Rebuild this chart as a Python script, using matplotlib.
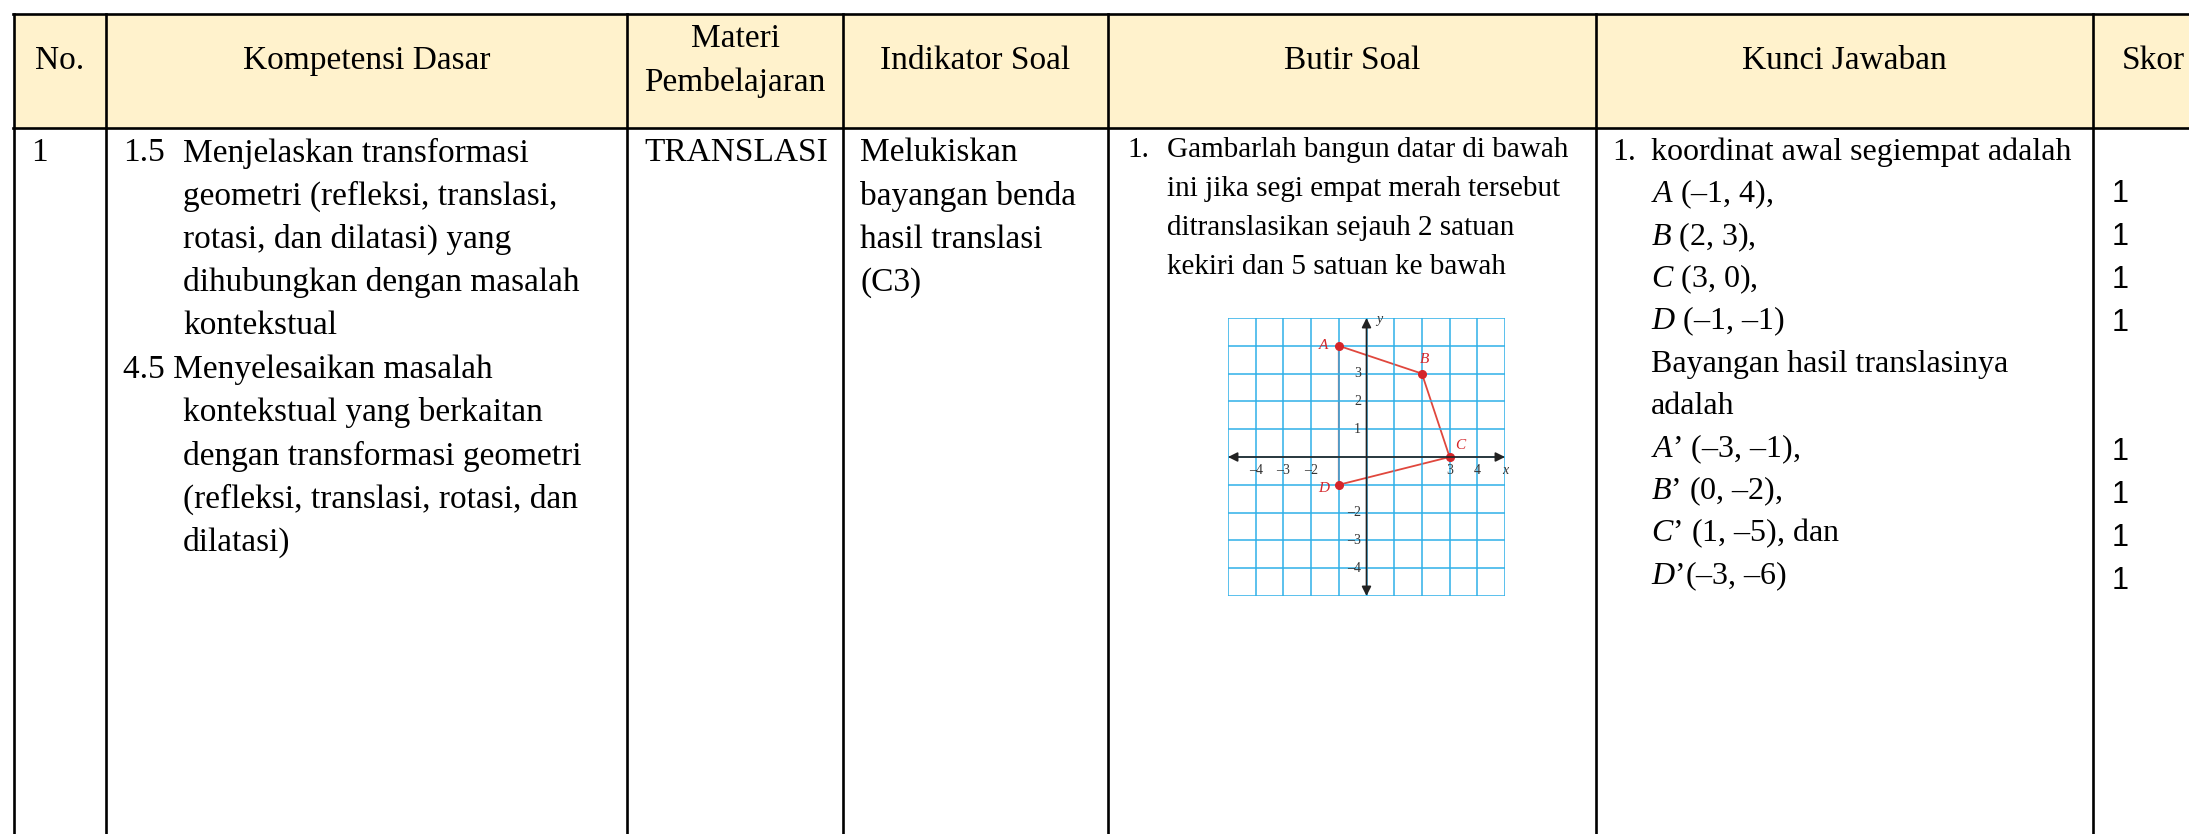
import numpy as np
import matplotlib.pyplot as plt
from matplotlib.patches import Rectangle

plt.rcParams['mathtext.fontset'] = 'custom'
plt.rcParams['mathtext.it'] = 'Liberation Serif:italic'
plt.rcParams['mathtext.rm'] = 'Liberation Serif'

#Table content
headers = ['No.', 'Kompetensi Dasar', 'Materi\nPembelajaran', 'Indikator Soal',
           'Butir Soal', 'Kunci Jawaban', 'Skor']
nomor = '1'
kd_lines = [('1.5', 'Menjelaskan transformasi'),
            ('', 'geometri (refleksi, translasi,'),
            ('', 'rotasi, dan dilatasi) yang'),
            ('', 'dihubungkan dengan masalah'),
            ('', 'kontekstual'),
            ('4.5 Menyelesaikan masalah', ''),
            ('', 'kontekstual yang berkaitan'),
            ('', 'dengan transformasi geometri'),
            ('', '(refleksi, translasi, rotasi, dan'),
            ('', 'dilatasi)')]
materi = 'TRANSLASI'
indikator_lines = ['Melukiskan', 'bayangan benda', 'hasil translasi', '(C3)']
soal_lines = ['Gambarlah bangun datar di bawah',
              'ini jika segi empat merah tersebut',
              'ditranslasikan sejauh 2 satuan',
              'kekiri dan 5 satuan ke bawah']
kunci_lines = ['koordinat awal segiempat adalah',
               '$A$ (\u20131, 4),',
               '$B$ (2, 3),',
               '$C$ (3, 0),',
               '$D$ (\u20131, \u20131)',
               'Bayangan hasil translasinya',
               'adalah',
               '$A$\u2019 (\u20133, \u20131),',
               '$B$\u2019 (0, \u20132),',
               '$C$\u2019 (1, \u20135), dan',
               '$D$\u2019(\u20133, \u20136)']
skor = [None, 1, 1, 1, 1, None, None, 1, 1, 1, 1]

#Quadrilateral in the question picture
quad_names = ['A', 'B', 'C', 'D']
quad_x = [-1, 2, 3, -1]
quad_y = [4, 3, 0, -1]
x_ticks = [-4, -3, -2, 3, 4]
y_ticks = [3, 2, 1, -2, -3, -4]

#Layout (pixels)
W, H = 2189, 834
col_edges = [14, 106, 627, 843, 1108, 1596, 2093]
top, head_bot = 14, 128
serif = 'Liberation Serif'

fig = plt.figure(figsize=(W / 100, H / 100), dpi=100)
ax = fig.add_axes([0, 0, 1, 1])
ax.set_xlim(0, W)
ax.set_ylim(H, 0)
ax.axis('off')

ax.add_patch(Rectangle((col_edges[0], top), W - col_edges[0], head_bot - top,
                       facecolor='#fff2cc', edgecolor='none'))
lw = 1.9
for yy in [top, head_bot]:
    ax.plot([col_edges[0] - 1, W], [yy, yy], color='black', lw=lw)
for xx in col_edges:
    ax.plot([xx, xx], [top, H], color='black', lw=lw)

#Header
centers = [(col_edges[i] + col_edges[i + 1]) / 2 for i in range(len(col_edges) - 1)]
centers.append(2153)
for cx, h in zip(centers, headers):
    ax.text(cx, 61, h, ha='center', va='center', fontsize=24, family=serif,
            linespacing=1.55)

#Body
y0, dy = 153, 43.3
ax.text(31, y0, nomor, va='center', fontsize=24, family=serif)
for i, (pre, txt) in enumerate(kd_lines):
    yy = y0 + i * dy
    if pre:
        ax.text(123, yy, pre, va='center', fontsize=24, family=serif)
    if txt:
        ax.text(183, yy, txt, va='center', fontsize=24, family=serif)
ax.text(644, y0, materi, va='center', fontsize=24, family=serif)
for i, txt in enumerate(indikator_lines):
    ax.text(860, y0 + i * dy, txt, va='center', fontsize=24, family=serif)

ax.text(1127, 150, '1.', va='center', fontsize=21, family=serif)
for i, txt in enumerate(soal_lines):
    ax.text(1167, 150 + i * 39, txt, va='center', fontsize=21, family=serif)

ax.text(1612, 152, '1.', va='center', fontsize=23, family=serif)
for i, (txt, s) in enumerate(zip(kunci_lines, skor)):
    ax.text(1651, 152 + i * 42.4, txt, va='center', fontsize=23, family=serif)
    if s is not None:
        ax.text(2112, 151 + i * 43.0, str(s), va='center', fontsize=22,
                family='Liberation Sans')

#Coordinate picture
gx = fig.add_axes([1228 / W, 1 - 596 / H, 277 / W, 278 / H])
gx.set_xlim(-5, 5)
gx.set_ylim(-5, 5)
gx.axis('off')
grid = np.arange(-5, 6)
gx.vlines(grid, -5, 5, color='#2fb0e8', lw=1.1)
gx.hlines(grid, -5, 5, color='#2fb0e8', lw=1.1)
gx.annotate('', xy=(5, 0), xytext=(-5, 0),
            arrowprops=dict(arrowstyle='<|-|>', color='#222222', lw=1.2,
                            mutation_scale=14, shrinkA=0, shrinkB=0))
gx.annotate('', xy=(0, 5), xytext=(0, -5),
            arrowprops=dict(arrowstyle='<|-|>', color='#222222', lw=1.2,
                            mutation_scale=14, shrinkA=0, shrinkB=0))
for v in x_ticks:
    gx.text(v, -0.48, ('\u2013%d' % -v) if v < 0 else str(v), ha='center',
            va='center', fontsize=10, family=serif, color='#333333')
gx.text(5.0, -0.48, 'x', ha='center', va='center', fontsize=10, family=serif,
        style='italic', color='#333333')
for v in y_ticks:
    gx.text(-0.2, v, ('\u2013%d' % -v) if v < 0 else str(v), ha='right',
            va='center', fontsize=10, family=serif, color='#333333')
gx.text(0.45, 4.95, 'y', ha='center', va='center', fontsize=10, family=serif,
        style='italic', color='#333333')
gx.fill(quad_x, quad_y, fill=False, edgecolor='#e0473d', lw=1.3)
gx.plot(quad_x, quad_y, 'o', color='#d4252a', markersize=5.5)
offsets = [(-0.55, 0.0), (0.1, 0.5), (0.4, 0.4), (-0.55, -0.15)]
for n, x, y, (ox, oy) in zip(quad_names, quad_x, quad_y, offsets):
    gx.text(x + ox, y + oy, n, ha='center', va='center', fontsize=11,
            family=serif, style='italic', color='#d4252a')

fig.savefig('out.png', dpi=100)
